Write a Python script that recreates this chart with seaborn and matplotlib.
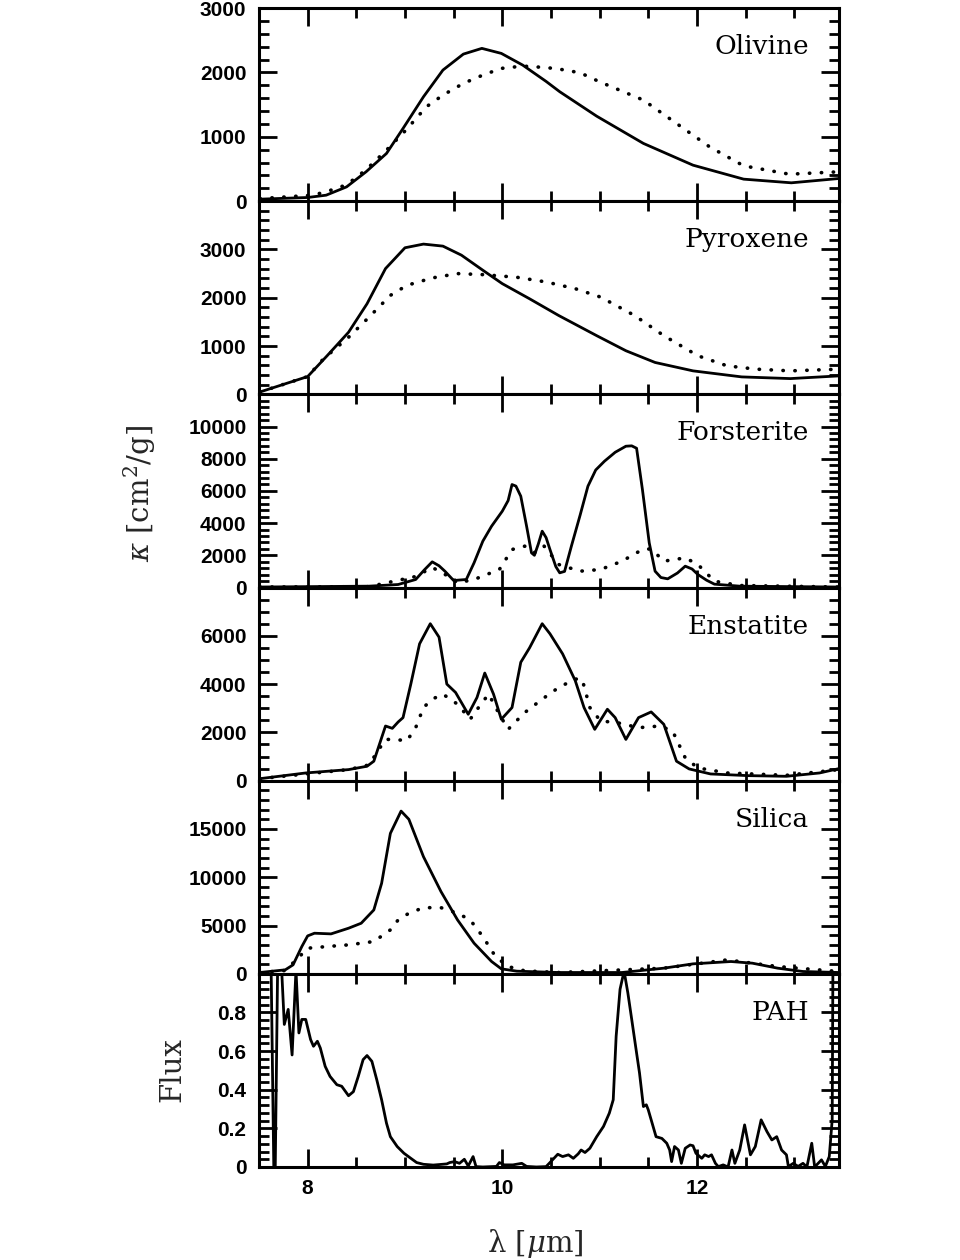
import numpy as np
import pandas as pd
import matplotlib
matplotlib.use("Agg")
import matplotlib.pyplot as plt
import seaborn as sns
from matplotlib.ticker import MultipleLocator, FixedLocator, FuncFormatter

# ---------------- data ----------------
oli_sol_wl = [7.51, 8.0, 8.19, 8.40, 8.60, 8.81, 8.98, 9.19, 9.39, 9.60, 9.79, 9.99, 10.21, 10.45,
              10.59, 10.80, 10.97, 11.45, 11.96, 12.48, 12.97, 13.46]
oli_sol_k = [31, 57, 93, 222, 456, 741, 1129, 1621, 2036, 2284, 2373, 2295, 2113, 1860,
             1700, 1490, 1320, 897, 559, 342, 285, 352]
oli_dot_wl = [7.51, 8.0, 8.16, 8.4, 8.6, 8.81, 9.01, 9.22, 9.39, 9.6, 9.8, 9.99, 10.21, 10.45,
              10.59, 10.8, 11.0, 11.45, 11.79, 12.13, 12.48, 12.95, 13.46]
oli_dot_k = [40, 88, 130, 254, 487, 793, 1104, 1466, 1647, 1829, 1958, 2062, 2098, 2075,
             2050, 1994, 1854, 1570, 1207, 844, 549, 419, 456]

pyr_sol_wl = [7.51, 8.0, 8.2, 8.42, 8.61, 8.80, 9.0, 9.19, 9.39, 9.58, 9.80, 10.0, 10.28, 10.58,
              10.97, 11.27, 11.57, 11.96, 12.46, 12.96, 13.46]
pyr_sol_k = [49, 368, 799, 1285, 1875, 2604, 3035, 3111, 3069, 2882, 2570, 2292, 1979, 1632,
             1215, 903, 660, 486, 361, 326, 382]
pyr_dot_wl = [7.51, 8.0, 8.16, 8.42, 8.63, 8.85, 9.02, 9.28, 9.54, 9.80, 10.15, 10.45, 10.75,
              11.01, 11.36, 11.66, 12.01, 12.31, 12.61, 12.96, 13.46]
pyr_dot_k = [49, 368, 729, 1181, 1597, 2049, 2257, 2410, 2500, 2479, 2424, 2327, 2188,
             2014, 1632, 1215, 799, 590, 521, 486, 521]

for_sol_wl = [7.51, 8.63, 8.93, 9.11, 9.20, 9.28, 9.35, 9.41, 9.5, 9.63, 9.71, 9.80, 9.89, 10.0,
              10.06, 10.10, 10.14, 10.19, 10.25, 10.30, 10.33, 10.37, 10.41, 10.45, 10.49, 10.55,
              10.59, 10.64, 10.71, 10.80, 10.88, 10.96, 11.05, 11.16, 11.27, 11.33, 11.38, 11.44,
              11.51, 11.57, 11.63, 11.70, 11.80, 11.88, 11.95, 12.01, 12.10, 12.18, 12.44, 13.46]
for_sol_k = [30, 83, 186, 497, 1100, 1594, 1350, 1014, 435, 497, 1532, 2877, 3809, 4740,
             5400, 6396, 6300, 5672, 3800, 2153, 2000, 2700, 3499, 3100, 2360, 1300,
             911, 1000, 2567, 4500, 6293, 7300, 7845, 8400, 8777, 8800, 8650, 6086,
             2774, 1014, 620, 538, 900, 1325, 1150, 807, 450, 207, 83, 30]
for_dot_wl = [7.51, 8.63, 9.11, 9.28, 9.45, 9.54, 9.71, 9.97, 10.10, 10.23, 10.34, 10.43, 10.58,
              10.80, 11.01, 11.23, 11.44, 11.53, 11.66, 11.88, 12.01, 12.18, 12.44, 13.46]
for_dot_k = [30, 50, 683, 1250, 683, 290, 497, 1118, 2360, 2567, 2153, 2567, 1428,
             1014, 1118, 1635, 2360, 2401, 1635, 1842, 1428, 393, 124, 30]

ens_sol_wl = [7.51, 7.98, 8.42, 8.61, 8.68, 8.80, 8.87, 8.93, 8.98, 9.06, 9.15, 9.26, 9.35, 9.43,
              9.52, 9.65, 9.74, 9.82, 9.91, 9.99, 10.10, 10.19, 10.28, 10.41, 10.49, 10.62, 10.75,
              10.84, 10.95, 11.08, 11.16, 11.27, 11.40, 11.53, 11.66, 11.79, 11.92, 12.14, 12.53,
              12.92, 13.26, 13.46]
ens_sol_k = [83, 319, 458, 597, 806, 2264, 2167, 2431, 2611, 4000, 5667, 6500, 5944, 4000,
             3653, 2750, 3444, 4458, 3583, 2542, 3028, 4903, 5500, 6500, 6083, 5250, 4139,
             3028, 2125, 2958, 2611, 1708, 2611, 2847, 2333, 806, 486, 278, 208,
             181, 319, 500]
ens_dot_wl = [7.51, 8.42, 8.63, 8.72, 8.80, 8.89, 9.02, 9.11, 9.19, 9.28, 9.39, 9.54, 9.67, 9.78,
              9.86, 9.97, 10.06, 10.23, 10.41, 10.58, 10.75, 10.82, 10.90, 11.01, 11.18, 11.40,
              11.62, 11.75, 11.88, 12.01, 12.31, 12.92, 13.46]
ens_dot_k = [83, 458, 653, 1222, 1708, 1708, 1653, 2194, 3028, 3375, 3583, 3167, 2542, 3167,
             3583, 2750, 2125, 2819, 3375, 3861, 4208, 4208, 3028, 2472, 2403, 2194,
             2264, 2056, 944, 528, 319, 222, 458]

sil_sol_wl = [7.51, 7.77, 7.85, 7.94, 8.0, 8.07, 8.24, 8.42, 8.55, 8.68, 8.76, 8.85, 8.96, 9.04,
              9.19, 9.37, 9.54, 9.71, 9.89, 9.99, 10.15, 10.58, 11.23, 11.66, 11.96, 12.35, 12.57,
              12.83, 13.09, 13.46]
sil_sol_k = [138, 414, 931, 2826, 3929, 4205, 4136, 4722, 5239, 6616, 9374, 14544, 16850, 16000,
             12129, 8517, 5584, 3172, 1276, 517, 275, 138, 138, 586, 1034, 1275, 1103,
             586, 241, 138]
sil_dot_wl = [7.51, 7.77, 7.9, 8.0, 8.2, 8.42, 8.68, 8.85, 8.93, 9.04, 9.19, 9.37, 9.54, 9.67,
              9.80, 9.93, 10.06, 10.23, 10.58, 11.66, 12.31, 12.83, 13.46]
sil_dot_k = [138, 345, 1620, 2654, 2826, 2999, 3344, 4550, 5584, 6273, 6850, 6850, 6273, 5584,
             3860, 1792, 758, 310, 138, 586, 1447, 758, 241]

pah_wl = [7.50, 7.55, 7.62, 7.66, 7.70, 7.73, 7.76, 7.80, 7.84, 7.88, 7.91, 7.94, 7.98, 8.03, 8.06,
          8.10, 8.13, 8.18, 8.23, 8.30, 8.35, 8.42, 8.47, 8.52, 8.57, 8.61, 8.66, 8.71, 8.76,
          8.81, 8.85, 8.92, 8.99, 9.06, 9.12, 9.19, 9.29, 9.43, 9.46, 9.51, 9.56, 9.61, 9.65,
          9.70, 9.73, 9.80, 9.94, 9.97, 10.02, 10.11, 10.20, 10.25, 10.35, 10.45, 10.49, 10.57,
          10.62, 10.68, 10.73, 10.78, 10.81, 10.85, 10.90, 10.97, 11.04, 11.10, 11.14, 11.17,
          11.21, 11.24, 11.26, 11.29, 11.33, 11.38, 11.41, 11.45, 11.48, 11.50, 11.53, 11.58,
          11.64, 11.69, 11.72, 11.74, 11.77, 11.81, 11.84, 11.88, 11.93, 11.96, 11.99, 12.05,
          12.08, 12.12, 12.15, 12.19, 12.22, 12.27, 12.32, 12.36, 12.39, 12.44, 12.49, 12.55,
          12.60, 12.66, 12.72, 12.77, 12.82, 12.87, 12.92, 12.94, 12.99, 13.04, 13.09, 13.13,
          13.18, 13.21, 13.28, 13.32, 13.36, 13.39, 13.40, 13.46]
pah_flux = [1.5, 1.3, 1.2, -0.3, 1.4, 1.05, 0.738, 0.816, 0.58, 1.02, 0.694, 0.764, 0.764, 0.66,
            0.625, 0.651, 0.616, 0.521, 0.469, 0.426, 0.418, 0.369, 0.39, 0.469, 0.556, 0.577,
            0.547, 0.452, 0.348, 0.227, 0.157, 0.106, 0.071, 0.045, 0.023, 0.014, 0.01, 0.016,
            0.023, 0.028, 0.019, 0.040, 0.005, 0.054, 0.002, 0.0, 0.003, 0.023, 0.011, 0.011,
            0.019, 0.003, 0.0, 0.002, 0.023, 0.066, 0.054, 0.063, 0.045, 0.068, 0.088, 0.075,
            0.097, 0.157, 0.21, 0.279, 0.348, 0.677, 0.92, 0.988, 0.99, 0.902, 0.764, 0.59,
            0.487, 0.313, 0.322, 0.296, 0.244, 0.157, 0.148, 0.123, 0.088, 0.028, 0.106, 0.088,
            0.019, 0.097, 0.114, 0.11, 0.071, 0.045, 0.063, 0.054, 0.063, 0.019, 0.002, 0.011,
            0.0, 0.088, 0.019, 0.088, 0.218, 0.063, 0.106, 0.244, 0.183, 0.14, 0.157, 0.088,
            0.063, 0.002, 0.019, 0.003, 0.019, 0.0, 0.123, 0.0, 0.037, 0.003, 0.054, 0.244,
            1.3, 1.5]

panel_names = ["Olivine", "Pyroxene", "Forsterite", "Enstatite", "Silica", "PAH"]
panel_ymax = [3000, 4000, 12000, 8000, 20000, 1.0]
panel_major = [1000, 1000, 2000, 2000, 5000, 0.2]
panel_minor = [200, 200, 400, 500, 1000, 0.04]
panel_labels = [[0, 1000, 2000, 3000], [0, 1000, 2000, 3000], [0, 2000, 4000, 6000, 8000, 10000],
                [0, 2000, 4000, 6000], [0, 5000, 10000, 15000], [0, 0.2, 0.4, 0.6, 0.8]]
series = [
    [(oli_sol_wl, oli_sol_k, "solid"), (oli_dot_wl, oli_dot_k, "dotted")],
    [(pyr_sol_wl, pyr_sol_k, "solid"), (pyr_dot_wl, pyr_dot_k, "dotted")],
    [(for_sol_wl, for_sol_k, "solid"), (for_dot_wl, for_dot_k, "dotted")],
    [(ens_sol_wl, ens_sol_k, "solid"), (ens_dot_wl, ens_dot_k, "dotted")],
    [(sil_sol_wl, sil_sol_k, "solid"), (sil_dot_wl, sil_dot_k, "dotted")],
    [(pah_wl, pah_flux, "solid")],
]

# ---------------- plotting ----------------
sns.set_theme(style="ticks")
plt.rcParams["font.family"] = ["DejaVu Serif"]
plt.rcParams["mathtext.fontset"] = "dejavuserif"

fig, axes = plt.subplots(6, 1, figsize=(9.6, 12.6), dpi=100, sharex=True)
fig.subplots_adjust(left=259 / 960, right=839 / 960, top=1 - 8 / 1260, bottom=1 - 1167 / 1260, hspace=0)
fig.patch.set_facecolor("white")

tick_font = {"family": "Liberation Sans", "weight": "bold", "size": 15}

for i, ax in enumerate(axes):
    ax.set_facecolor("white")
    for wl, val, style in series[i]:
        df = pd.DataFrame({"wl": wl, "val": val})
        if style == "solid":
            sns.lineplot(data=df, x="wl", y="val", ax=ax, color="black", lw=2.0,
                         sort=False, estimator=None)
        else:
            sns.lineplot(data=df, x="wl", y="val", ax=ax, color="black", lw=2.6,
                         linestyle=(0, (0.1, 3.2)), dash_capstyle="round",
                         sort=False, estimator=None)
    ax.set_xlim(7.5, 13.46)
    ax.set_ylim(0, panel_ymax[i])
    ax.set_xlabel("")
    ax.set_ylabel("")
    ax.xaxis.set_major_locator(MultipleLocator(2))
    ax.xaxis.set_minor_locator(MultipleLocator(0.5))
    ax.yaxis.set_major_locator(FixedLocator(np.arange(0, panel_ymax[i] + 1e-9, panel_major[i])))
    ax.yaxis.set_minor_locator(MultipleLocator(panel_minor[i]))
    ax.tick_params(which="both", direction="in", top=True, right=True, width=2.0,
                   colors="black", pad=9)
    ax.tick_params(which="major", length=13)
    ax.tick_params(which="minor", length=7)
    for sp in ax.spines.values():
        sp.set_linewidth(2.2)
        sp.set_color("black")
    labs = panel_labels[i]
    if i == 5:
        fmt = FuncFormatter(lambda v, p, labs=labs: ("0" if abs(v) < 1e-9 else f"{v:.1f}")
                            if any(abs(v - l) < 1e-9 for l in labs) else "")
    else:
        fmt = FuncFormatter(lambda v, p, labs=labs: f"{int(round(v))}"
                            if any(abs(v - l) < 1e-6 for l in labs) else "")
    ax.yaxis.set_major_formatter(fmt)
    for t in ax.get_yticklabels():
        t.set_fontproperties(matplotlib.font_manager.FontProperties(**tick_font))
    ax.text(0.948, 0.80, panel_names[i], transform=ax.transAxes, ha="right", va="center",
            fontsize=19, color="black", family="DejaVu Serif")

axes[-1].xaxis.set_major_formatter(FuncFormatter(lambda v, p: f"{int(round(v))}"))
for t in axes[-1].get_xticklabels():
    t.set_fontproperties(matplotlib.font_manager.FontProperties(**tick_font))

fig.text(140 / 960, 1 - 493 / 1260, r"$\kappa$ [cm$^2$/g]", rotation=90, ha="center", va="center",
         fontsize=21, family=["DejaVu Serif"])
fig.text(172 / 960, 1 - 1070 / 1260, "Flux", rotation=90, ha="center", va="center",
         fontsize=21, family=["DejaVu Serif"])
fig.text(535 / 960, 1 - 1243 / 1260, r"λ [$\mu$m]", ha="center", va="center",
         fontsize=21, family=["DejaVu Serif"])

fig.savefig("out.png", dpi=100, facecolor="white")
